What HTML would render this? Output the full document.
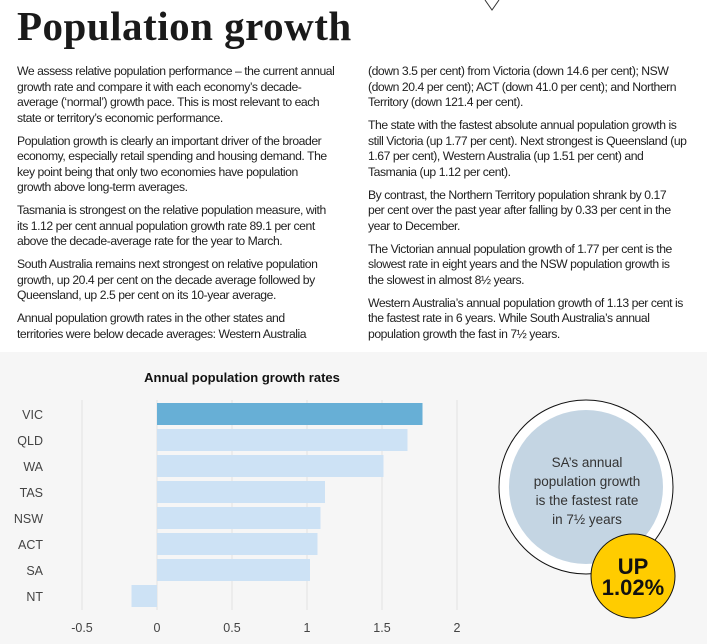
<!DOCTYPE html>
<html><head><meta charset="utf-8"><style>
body{margin:0;width:707px;height:644px;overflow:hidden;background:#fff;font-family:"Liberation Sans",sans-serif;color:#222;position:relative}
h1{position:absolute;left:17px;top:2px;margin:0;font-family:"Liberation Serif",serif;font-weight:bold;font-size:41px;letter-spacing:0.5px;color:#1a1a1a}
.col{position:absolute;top:64px;font-size:12.2px;letter-spacing:-0.45px;line-height:15.5px;color:#222;white-space:nowrap}
.col p{margin:0 0 7.5px 0}
#chartbg{position:absolute;left:0;top:352px;width:707px;height:292px;background:#f6f6f6}
svg{position:absolute;left:0;top:0}
</style></head><body>
<svg width="707" height="20"><path d="M485,0 L492,10 L499,0" fill="none" stroke="#333" stroke-width="1"/></svg>
<h1>Population growth</h1>
<div class="col" style="left:17px;width:340px">
<p>We assess relative population performance – the current annual<br>growth rate and compare it with each economy’s decade-<br>average (‘normal’) growth pace. This is most relevant to each<br>state or territory’s economic performance.</p>
<p>Population growth is clearly an important driver of the broader<br>economy, especially retail spending and housing demand. The<br>key point being that only two economies have population<br>growth above long-term averages.</p>
<p>Tasmania is strongest on the relative population measure, with<br>its 1.12 per cent annual population growth rate 89.1 per cent<br>above the decade-average rate for the year to March.</p>
<p>South Australia remains next strongest on relative population<br>growth, up 20.4 per cent on the decade average followed by<br>Queensland, up 2.5 per cent on its 10-year average.</p>
<p>Annual population growth rates in the other states and<br>territories were below decade averages: Western Australia</p>
</div>
<div class="col" style="left:368px;width:338px">
<p>(down 3.5 per cent) from Victoria (down 14.6 per cent); NSW<br>(down 20.4 per cent); ACT (down 41.0 per cent); and Northern<br>Territory (down 121.4 per cent).</p>
<p>The state with the fastest absolute annual population growth is<br>still Victoria (up 1.77 per cent). Next strongest is Queensland (up<br>1.67 per cent), Western Australia (up 1.51 per cent) and<br>Tasmania (up 1.12 per cent).</p>
<p>By contrast, the Northern Territory population shrank by 0.17<br>per cent over the past year after falling by 0.33 per cent in the<br>year to December.</p>
<p>The Victorian annual population growth of 1.77 per cent is the<br>slowest rate in eight years and the NSW population growth is<br>the slowest in almost 8½ years.</p>
<p>Western Australia’s annual population growth of 1.13 per cent is<br>the fastest rate in 6 years. While South Australia’s annual<br>population growth the fast in 7½ years.</p>
</div>
<div id="chartbg"></div>
<svg id="chart" width="707" height="644">
<text x="242" y="382" text-anchor="middle" font-size="13" font-weight="bold" fill="#111">Annual population growth rates</text>
<g id="grid"></g><g id="bars"></g><g id="labels"></g>
<circle cx="586" cy="487" r="87" fill="#fff" stroke="#111" stroke-width="1"/>
<circle cx="586" cy="487" r="77" fill="#c4d5e3"/>
<g font-size="13.5" fill="#333" text-anchor="middle">
<text x="587" y="467">SA’s annual</text><text x="587" y="486">population growth</text><text x="587" y="505">is the fastest rate</text><text x="587" y="524">in 7½ years</text></g>
<circle cx="633" cy="576" r="42" fill="#ffcc00" stroke="#111" stroke-width="1"/>
<g font-size="22" font-weight="bold" fill="#111" text-anchor="middle">
<text x="633" y="574">UP</text><text x="633" y="595">1.02%</text></g>
</svg>
<script>
const categories=["VIC","QLD","WA","TAS","NSW","ACT","SA","NT"];
const values=[1.77,1.67,1.51,1.12,1.09,1.07,1.02,-0.17];
const ticks=[-0.5,0,0.5,1,1.5,2];
const tickLabels=["-0.5","0","0.5","1","1.5","2"];
const NS="http://www.w3.org/2000/svg";
const x=v=>157+v*150;
const y=i=>403+i*26;
const grid=document.getElementById('grid'),bars=document.getElementById('bars'),labels=document.getElementById('labels');
ticks.forEach((t,i)=>{
 const l=document.createElementNS(NS,'line');
 l.setAttribute('x1',x(t));l.setAttribute('x2',x(t));l.setAttribute('y1',400);l.setAttribute('y2',610);
 l.setAttribute('stroke','#e2e2e2');l.setAttribute('stroke-width','1');
 
 
 grid.appendChild(l);
 const tx=document.createElementNS(NS,'text');
 tx.setAttribute('x',x(t));tx.setAttribute('y',632);tx.setAttribute('text-anchor','middle');
 tx.setAttribute('font-size','12.5');tx.setAttribute('fill','#444');tx.textContent=tickLabels[i];
 
 
 labels.appendChild(tx);
});
categories.forEach((c,i)=>{
 const v=values[i];
 const r=document.createElementNS(NS,'rect');
 r.setAttribute('x',Math.min(x(0),x(v)));r.setAttribute('width',Math.abs(x(v)-x(0)));
 r.setAttribute('y',y(i));r.setAttribute('height',22);
 r.setAttribute('fill',i===0?'#67afd6':'#cde2f5');
 
 
 bars.appendChild(r);
 const tx=document.createElementNS(NS,'text');
 tx.setAttribute('x',43);tx.setAttribute('y',y(i)+16);tx.setAttribute('text-anchor','end');
 tx.setAttribute('font-size','12.5');tx.setAttribute('fill','#444');tx.textContent=c;
 
 
 labels.appendChild(tx);
});
</script>
</body></html>
